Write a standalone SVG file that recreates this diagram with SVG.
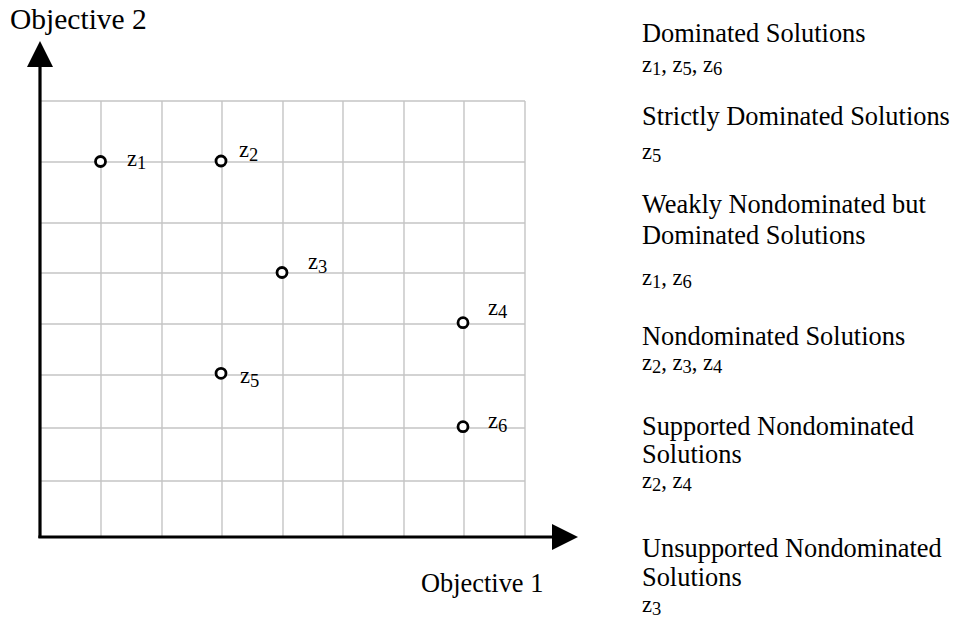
<svg xmlns="http://www.w3.org/2000/svg" width="956" height="623" viewBox="0 0 956 623">
<style>
.grid line{stroke:#c4c4c4;stroke-width:1.4}
.axis{stroke:#000;stroke-width:3.2;fill:none}
.pt{fill:#fff;stroke:#000;stroke-width:2.8}
.t{font-family:"Liberation Serif","Times New Roman",serif;fill:#000}
.big{font-size:26.4px}
.z{font-size:22.5px}
.sub{font-size:18.5px}
</style>
<defs>
<marker id="ah" viewBox="0 0 26 26" markerUnits="userSpaceOnUse" markerWidth="26" markerHeight="26" refX="7" refY="13" orient="auto">
<path d="M0,0 L26,13 L0,26 z" fill="#000"/>
</marker>
</defs>
<rect width="956" height="623" fill="#fff"/>
<g id="grid" class="grid">
<line x1="40" y1="101" x2="525" y2="101"/>
<line x1="40" y1="162" x2="525" y2="162"/>
<line x1="40" y1="223" x2="525" y2="223"/>
<line x1="40" y1="273" x2="525" y2="273"/>
<line x1="40" y1="324" x2="525" y2="324"/>
<line x1="40" y1="375" x2="525" y2="375"/>
<line x1="40" y1="428" x2="525" y2="428"/>
<line x1="40" y1="481" x2="525" y2="481"/>
<line x1="101" y1="101" x2="101" y2="536"/>
<line x1="162" y1="101" x2="162" y2="536"/>
<line x1="222" y1="101" x2="222" y2="536"/>
<line x1="283" y1="101" x2="283" y2="536"/>
<line x1="343" y1="101" x2="343" y2="536"/>
<line x1="404" y1="101" x2="404" y2="536"/>
<line x1="464" y1="101" x2="464" y2="536"/>
<line x1="525" y1="101" x2="525" y2="536"/>
</g>
<g id="connectors">
<line class="axis" x1="40" y1="538" x2="40" y2="60" marker-end="url(#ah)"/>
<line class="axis" x1="38.4" y1="537" x2="559" y2="537" marker-end="url(#ah)"/>
</g>
<g id="axis-labels">
<text class="t" x="10" y="29" style="font-size:29.5px">Objective 2</text>
<text class="t big" x="421" y="592">Objective 1</text>
</g>
<g id="z1"><circle class="pt" cx="100.5" cy="161.5" r="5"/><text class="t z" x="127" y="166">z<tspan class="sub" dy="3">1</tspan></text></g>
<g id="z2"><circle class="pt" cx="221" cy="161" r="5"/><text class="t z" x="239" y="157">z<tspan class="sub" dy="4">2</tspan></text></g>
<g id="z3"><circle class="pt" cx="282" cy="272.5" r="5"/><text class="t z" x="308" y="269">z<tspan class="sub" dy="4">3</tspan></text></g>
<g id="z4"><circle class="pt" cx="463" cy="322.7" r="5"/><text class="t z" x="488" y="315">z<tspan class="sub" dy="3">4</tspan></text></g>
<g id="z5"><circle class="pt" cx="221" cy="373.3" r="5"/><text class="t z" x="240" y="383">z<tspan class="sub" dy="4">5</tspan></text></g>
<g id="z6"><circle class="pt" cx="463" cy="426.7" r="5"/><text class="t z" x="488" y="428">z<tspan class="sub" dy="4">6</tspan></text></g>
<g id="legend">
<text class="t big" x="642" y="42">Dominated Solutions</text>
<text class="t z" x="642" y="72">z<tspan class="sub" dy="3">1</tspan><tspan dy="-3">, z</tspan><tspan class="sub" dy="3">5</tspan><tspan dy="-3">, z</tspan><tspan class="sub" dy="3">6</tspan></text>
<text class="t big" x="642" y="125">Strictly Dominated Solutions</text>
<text class="t z" x="642" y="159">z<tspan class="sub" dy="3">5</tspan></text>
<text class="t big" x="642" y="213">Weakly Nondominated but</text>
<text class="t big" x="642" y="244">Dominated Solutions</text>
<text class="t z" x="642" y="285">z<tspan class="sub" dy="3">1</tspan><tspan dy="-3">, z</tspan><tspan class="sub" dy="3">6</tspan></text>
<text class="t big" x="642" y="345">Nondominated Solutions</text>
<text class="t z" x="642" y="370">z<tspan class="sub" dy="3">2</tspan><tspan dy="-3">, z</tspan><tspan class="sub" dy="3">3</tspan><tspan dy="-3">, z</tspan><tspan class="sub" dy="3">4</tspan></text>
<text class="t big" x="642" y="435">Supported Nondominated</text>
<text class="t big" x="642" y="463">Solutions</text>
<text class="t z" x="642" y="488">z<tspan class="sub" dy="3">2</tspan><tspan dy="-3">, z</tspan><tspan class="sub" dy="3">4</tspan></text>
<text class="t big" x="642" y="557">Unsupported Nondominated</text>
<text class="t big" x="642" y="586">Solutions</text>
<text class="t z" x="642" y="612">z<tspan class="sub" dy="3">3</tspan></text>
</g>
</svg>
